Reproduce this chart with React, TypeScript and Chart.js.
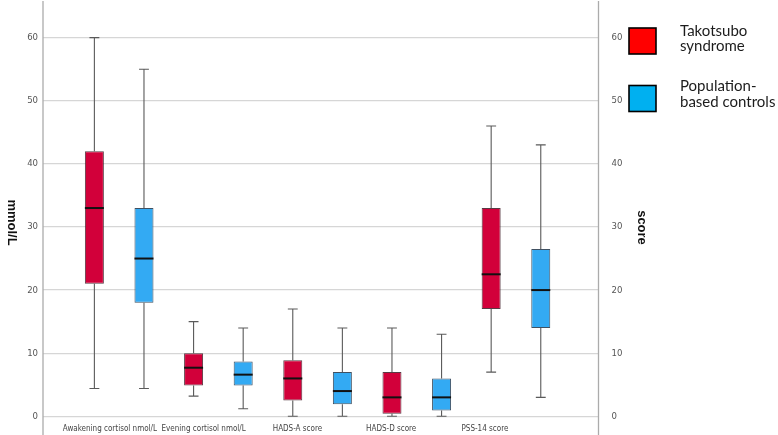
import React, { useEffect, useRef } from 'react';
import { Chart, registerables } from 'chart.js';

Chart.register(...registerables);

const categories = [
  'Awakening cortisol nmol/L',
  'Evening cortisol nmol/L',
  'HADS-A score',
  'HADS-D score',
  'PSS-14 score',
];
const seriesNames = ['Takotsubo syndrome', 'Population-based controls'];

const tsMin = [4.4, 3.2, 0, 0, 7];
const tsQ1 = [21, 4.9, 2.5, 0.4, 17];
const tsMedian = [33, 7.7, 6, 3, 22.5];
const tsQ3 = [42, 10, 8.9, 7, 33];
const tsMax = [60, 15, 17, 14, 46];

const ctrlMin = [4.4, 1.2, 0, 0, 3];
const ctrlQ1 = [18, 4.9, 1.9, 0.9, 14];
const ctrlMedian = [25, 6.6, 4, 3, 20];
const ctrlQ3 = [33, 8.7, 7, 6, 26.5];
const ctrlMax = [55, 14, 14, 13, 43];

const yTicks = [0, 10, 20, 30, 40, 50, 60];

const TICK_FONT = "'DejaVu Sans Condensed', 'DejaVu Sans', sans-serif";

const boxPlugin = {
  id: 'boxWhiskers',
  beforeDatasetsDraw(chart: any) {
    const ctx = chart.ctx;
    const ys = chart.scales.y;
    ctx.save();
    chart.data.datasets.forEach((ds: any, d: number) => {
      const meta = chart.getDatasetMeta(d);
      meta.data.forEach((bar: any, i: number) => {
        const x = bar.x;
        const cap = bar.width * 0.52;
        const pMax = ys.getPixelForValue(ds.stats.max[i]);
        const pMin = ys.getPixelForValue(ds.stats.min[i]);
        const pQ1 = ys.getPixelForValue(ds.stats.q1[i]);
        const pQ3 = ys.getPixelForValue(ds.stats.q3[i]);
        ctx.strokeStyle = '#5a5a5a';
        ctx.lineWidth = 1.1;
        ctx.beginPath();
        ctx.moveTo(x, pQ3);
        ctx.lineTo(x, pMax);
        ctx.moveTo(x, pQ1);
        ctx.lineTo(x, pMin);
        ctx.moveTo(x - cap / 2, pMax);
        ctx.lineTo(x + cap / 2, pMax);
        ctx.moveTo(x - cap / 2, pMin);
        ctx.lineTo(x + cap / 2, pMin);
        ctx.stroke();
      });
    });
    ctx.restore();
  },
  afterDatasetsDraw(chart: any) {
    const ctx = chart.ctx;
    const ys = chart.scales.y;
    ctx.save();
    chart.data.datasets.forEach((ds: any, d: number) => {
      const meta = chart.getDatasetMeta(d);
      meta.data.forEach((bar: any, i: number) => {
        const x = bar.x;
        const w = bar.width;
        const pMed = ys.getPixelForValue(ds.stats.median[i]);
        ctx.strokeStyle = '#111';
        ctx.lineWidth = 2;
        ctx.beginPath();
        ctx.moveTo(x - w / 2, pMed);
        ctx.lineTo(x + w / 2, pMed);
        ctx.stroke();
      });
    });
    ctx.restore();
  },
  afterDraw(chart: any) {
    const ctx = chart.ctx;
    const area = chart.chartArea;
    ctx.save();
    // axis lines
    ctx.strokeStyle = '#ababab';
    ctx.lineWidth = 1.3;
    ctx.beginPath();
    ctx.moveTo(area.left, 1);
    ctx.lineTo(area.left, 435);
    ctx.moveTo(area.right, 1);
    ctx.lineTo(area.right, 435);
    ctx.stroke();

    // axis titles (rotated clockwise)
    ctx.fillStyle = '#111';
    ctx.font = "bold 13px 'Liberation Sans', Arial, sans-serif";
    ctx.textAlign = 'center';
    ctx.textBaseline = 'middle';
    ctx.save();
    ctx.translate(area.left - 31, (area.top + area.bottom) / 2 + 5);
    ctx.rotate(Math.PI / 2);
    ctx.fillText('mmol/L', 0, 0);
    ctx.restore();
    ctx.save();
    ctx.translate(area.right + 43.5, (area.top + area.bottom) / 2 + 10);
    ctx.rotate(Math.PI / 2);
    ctx.fillText('score', 0, 0);
    ctx.restore();

    // legend
    const lx = area.right + 30.5;
    const colors = ['#FF0000', '#00B0F0'];
    const tops = [28, 85.5];
    const lines = [['Takotsubo', 'syndrome'], ['Population-', 'based controls']];
    const baselines = [[35.5, 51], [91, 107]];
    for (let k = 0; k < 2; k++) {
      ctx.fillStyle = colors[k];
      ctx.fillRect(lx, tops[k], 27, 26);
      ctx.strokeStyle = '#000';
      ctx.lineWidth = 1.6;
      ctx.strokeRect(lx, tops[k], 27, 26);
      ctx.fillStyle = '#1c1c1c';
      ctx.font = "15px Lato, 'Open Sans', sans-serif";
      ctx.textAlign = 'left';
      ctx.textBaseline = 'alphabetic';
      lines[k].forEach((t, j) => ctx.fillText(t, lx + 51, baselines[k][j]));
    }
    ctx.restore();
  },
};

function makeData(q1: number[], q3: number[]) {
  return categories.map((_, i) => ({ x: i, y: [q1[i], q3[i]] }));
}

export default function App() {
  const ref = useRef<HTMLCanvasElement | null>(null);

  useEffect(() => {
    if (!ref.current) return;
    const intTicks = (axis: any) => {
      axis.ticks = categories.map((_, i) => ({ value: i }));
    };
    const chart = new Chart(ref.current, {
      type: 'bar',
      data: {
        datasets: [
          {
            label: seriesNames[0],
            data: makeData(tsQ1, tsQ3),
            backgroundColor: '#D2003A',
            borderColor: 'rgba(60,25,35,0.85)',
            borderWidth: 1,
            borderSkipped: false,
            xAxisID: 'x',
            yAxisID: 'y',
            stats: { min: tsMin, q1: tsQ1, median: tsMedian, q3: tsQ3, max: tsMax },
          } as any,
          {
            label: seriesNames[1],
            data: makeData(ctrlQ1, ctrlQ3),
            backgroundColor: '#33AAF3',
            borderColor: 'rgba(30,50,70,0.85)',
            borderWidth: 1,
            borderSkipped: false,
            xAxisID: 'x',
            yAxisID: 'y',
            stats: { min: ctrlMin, q1: ctrlQ1, median: ctrlMedian, q3: ctrlQ3, max: ctrlMax },
          } as any,
        ],
      },
      options: {
        animation: false,
        responsive: false,
        maintainAspectRatio: false,
        layout: { padding: { left: 0, right: 119.5, top: 3, bottom: 0 } },
        datasets: { bar: { barPercentage: 0.383, categoryPercentage: 1 } },
        plugins: { legend: { display: false }, tooltip: { enabled: false } },
        scales: {
          x: {
            type: 'linear',
            min: -0.768,
            max: 4.832,
            offset: false,
            display: false,
            grid: { offset: false },
            afterBuildTicks: intTicks,
          },
          x2: {
            type: 'linear',
            position: 'bottom',
            min: -0.7134,
            max: 5.211,
            offset: false,
            afterBuildTicks: intTicks,
            afterFit: (a: any) => {
              a.height = 18;
            },
            grid: { display: false, drawTicks: false, offset: false },
            border: { display: false },
            ticks: {
              autoSkip: false,
              maxRotation: 0,
              padding: 8,
              color: '#444',
              font: { family: TICK_FONT, size: 8 },
              callback: (v: any) => categories[v as number],
            },
          },
          y: {
            type: 'linear',
            position: 'left',
            min: 0,
            max: 63,
            afterBuildTicks: (a: any) => {
              a.ticks = yTicks.map((v) => ({ value: v }));
            },
            afterFit: (a: any) => {
              a.width = 43;
            },
            grid: { color: '#d6d6d6', lineWidth: 1.3, drawTicks: false },
            border: { display: false },
            ticks: {
              padding: 5,
              color: '#555',
              font: { family: TICK_FONT, size: 9.5 },
            },
          },
          y2: {
            type: 'linear',
            position: 'right',
            min: 0,
            max: 63,
            afterBuildTicks: (a: any) => {
              a.ticks = yTicks.map((v) => ({ value: v }));
            },
            afterFit: (a: any) => {
              a.width = 60;
            },
            grid: { display: false, drawTicks: false },
            border: { display: false },
            ticks: {
              padding: 13,
              color: '#555',
              font: { family: TICK_FONT, size: 9.5 },
            },
          },
        },
      } as any,
      plugins: [boxPlugin],
    });
    return () => chart.destroy();
  }, []);

  return (
    <div style={{ position: 'fixed', left: 0, top: 0, width: 778, height: 435, background: '#fff' }}>
      <canvas ref={ref} width={778} height={435} style={{ display: 'block' }} />
    </div>
  );
}
